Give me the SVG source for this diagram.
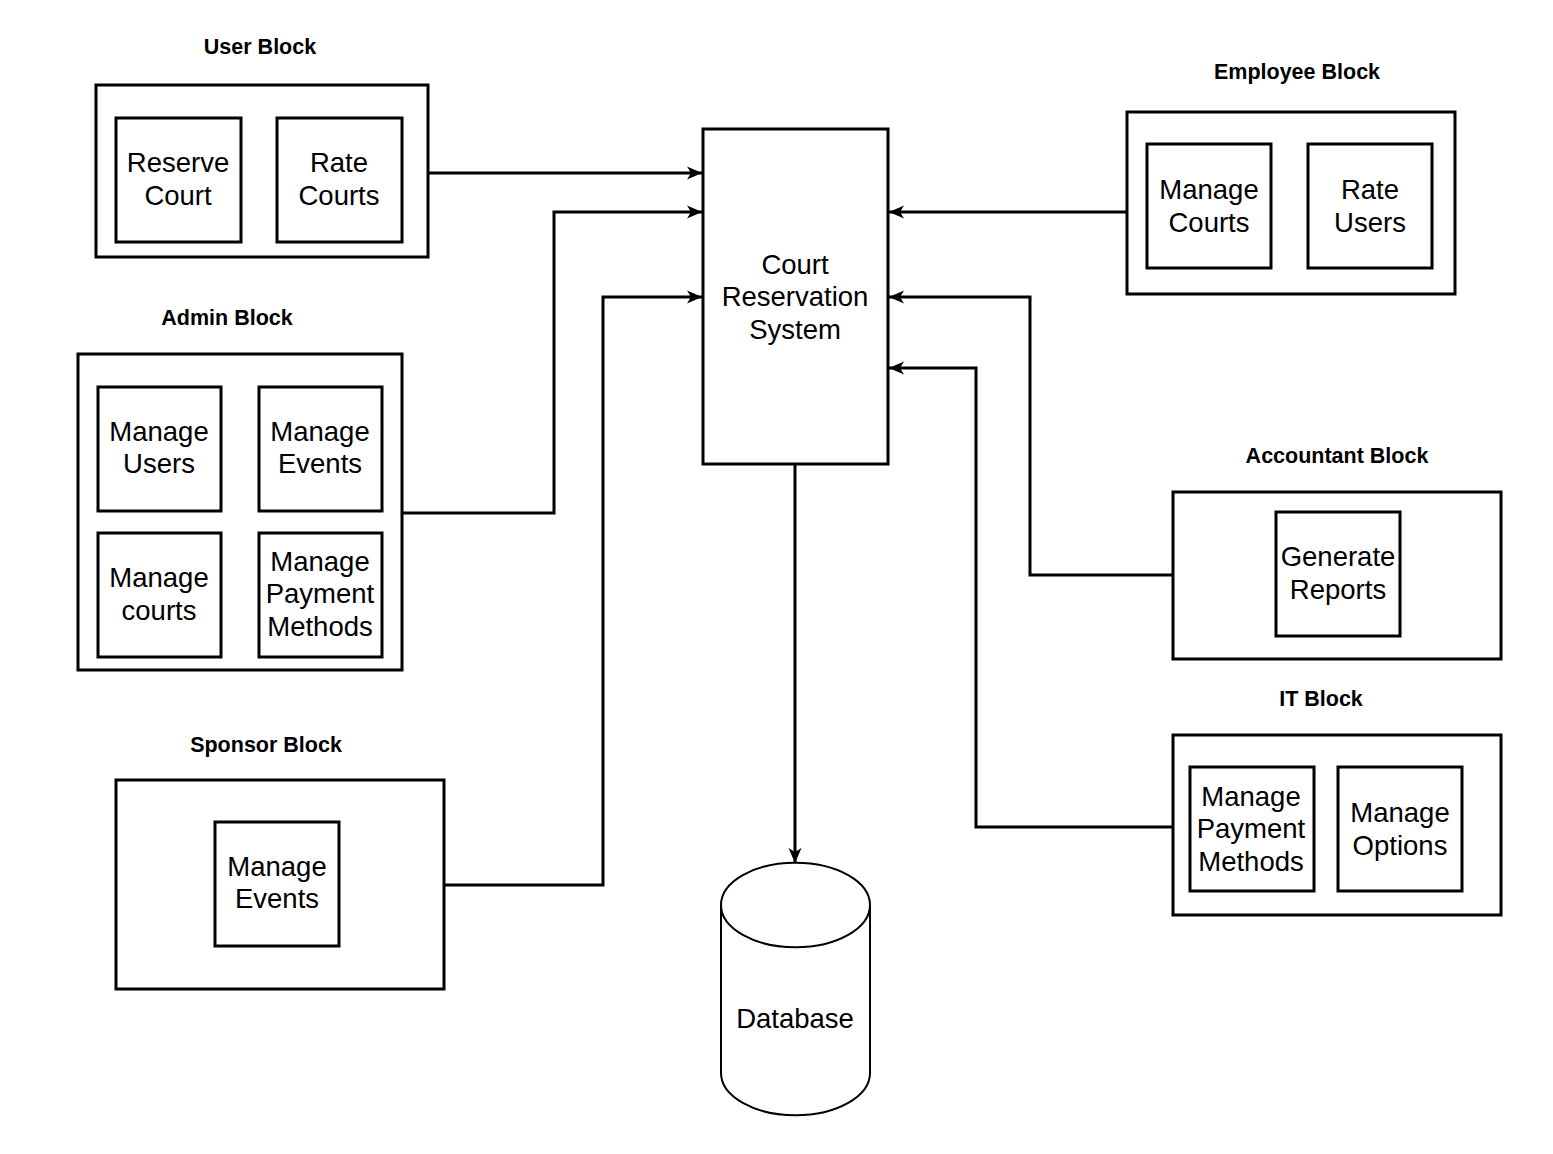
<svg xmlns="http://www.w3.org/2000/svg" width="1553" height="1154" viewBox="0 0 1553 1154">
<style>
.box{fill:#fff;stroke:#000;stroke-width:3}
.t{font-family:"Liberation Sans",Arial,sans-serif;font-size:27.5px;text-anchor:middle;fill:#000}
.lbl{font-family:"Liberation Sans",Arial,sans-serif;font-size:21.5px;font-weight:bold;text-anchor:middle;fill:#000}
.c{fill:none;stroke:#000;stroke-width:3}
</style>
<defs>
<marker id="arr" markerUnits="userSpaceOnUse" markerWidth="16" markerHeight="16" viewBox="0 0 16 16" refX="15" refY="8" orient="auto">
<path d="M0,1.5 L15,8 L0,14.5 L4,8 Z" fill="#000"/>
</marker>
</defs>
<rect width="1553" height="1154" fill="#fff"/>
<g id="connectors">
<path class="c" d="M428,173 H702" marker-end="url(#arr)"/>
<path class="c" d="M402,513 H554 V212 H702" marker-end="url(#arr)"/>
<path class="c" d="M444,885 H603 V297 H702" marker-end="url(#arr)"/>
<path class="c" d="M1127,212 H889" marker-end="url(#arr)"/>
<path class="c" d="M1173,575 H1030 V297 H889" marker-end="url(#arr)"/>
<path class="c" d="M1173,827 H976 V368 H889" marker-end="url(#arr)"/>
<path class="c" d="M795,464 V863" marker-end="url(#arr)"/>
</g>
<g id="user-block">
<text class="lbl" x="260" y="54">User Block</text>
<rect class="box" x="96" y="85" width="332" height="172"/>
<rect class="box" x="116" y="118" width="125" height="124"/>
<text class="t" x="178" y="172">Reserve</text><text class="t" x="178" y="205">Court</text>
<rect class="box" x="277" y="118" width="125" height="124"/>
<text class="t" x="339" y="172">Rate</text><text class="t" x="339" y="205">Courts</text>
</g>
<g id="central">
<rect class="box" x="703" y="129" width="185" height="335"/>
<text class="t" x="795" y="274">Court</text>
<text class="t" x="795" y="306">Reservation</text>
<text class="t" x="795" y="339">System</text>
</g>
<g id="employee-block">
<text class="lbl" x="1297" y="79">Employee Block</text>
<rect class="box" x="1127" y="112" width="328" height="182"/>
<rect class="box" x="1147" y="144" width="124" height="124"/>
<text class="t" x="1209" y="199">Manage</text><text class="t" x="1209" y="232">Courts</text>
<rect class="box" x="1308" y="144" width="124" height="124"/>
<text class="t" x="1370" y="199">Rate</text><text class="t" x="1370" y="232">Users</text>
</g>
<g id="admin-block">
<text class="lbl" x="227" y="325">Admin Block</text>
<rect class="box" x="78" y="354" width="324" height="316"/>
<rect class="box" x="98" y="387" width="123" height="124"/>
<text class="t" x="159" y="441">Manage</text><text class="t" x="159" y="473">Users</text>
<rect class="box" x="259" y="387" width="123" height="124"/>
<text class="t" x="320" y="441">Manage</text><text class="t" x="320" y="473">Events</text>
<rect class="box" x="98" y="533" width="123" height="124"/>
<text class="t" x="159" y="587">Manage</text><text class="t" x="159" y="620">courts</text>
<rect class="box" x="259" y="533" width="123" height="124"/>
<text class="t" x="320" y="571">Manage</text><text class="t" x="320" y="603">Payment</text><text class="t" x="320" y="636">Methods</text>
</g>
<g id="sponsor-block">
<text class="lbl" x="266" y="752">Sponsor Block</text>
<rect class="box" x="116" y="780" width="328" height="209"/>
<rect class="box" x="215" y="822" width="124" height="124"/>
<text class="t" x="277" y="876">Manage</text><text class="t" x="277" y="908">Events</text>
</g>
<g id="accountant-block">
<text class="lbl" x="1337" y="463">Accountant Block</text>
<rect class="box" x="1173" y="492" width="328" height="167"/>
<rect class="box" x="1276" y="512" width="124" height="124"/>
<text class="t" x="1338" y="566">Generate</text><text class="t" x="1338" y="599">Reports</text>
</g>
<g id="it-block">
<text class="lbl" x="1321" y="706">IT Block</text>
<rect class="box" x="1173" y="735" width="328" height="180"/>
<rect class="box" x="1190" y="767" width="124" height="124"/>
<text class="t" x="1251" y="806">Manage</text><text class="t" x="1251" y="838">Payment</text><text class="t" x="1251" y="871">Methods</text>
<rect class="box" x="1338" y="767" width="124" height="124"/>
<text class="t" x="1400" y="822">Manage</text><text class="t" x="1400" y="855">Options</text>
</g>
<g id="database">
<path d="M721,905 A74,42 0 0 1 870,905 V1073 A74,42 0 0 1 721,1073 Z" fill="#fff" stroke="#000" stroke-width="2"/>
<path d="M721,905 A74,42 0 0 0 870,905" fill="none" stroke="#000" stroke-width="2"/>
<text class="t" x="795" y="1028">Database</text>
</g>
</svg>
